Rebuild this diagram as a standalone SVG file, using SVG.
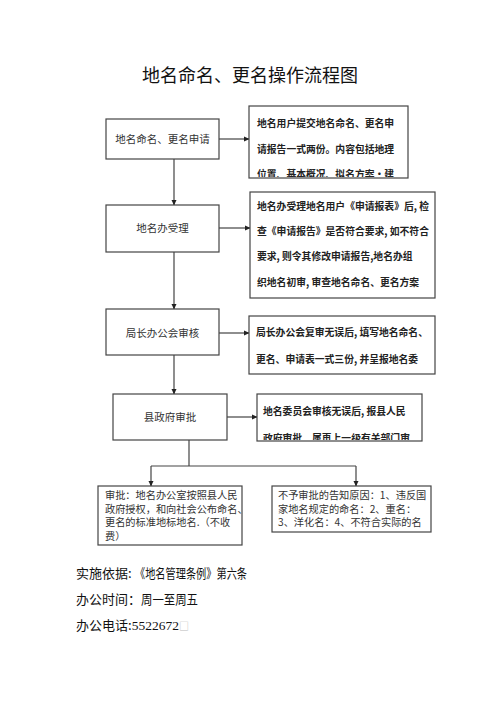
<svg xmlns="http://www.w3.org/2000/svg" width="500" height="708" viewBox="0 0 500 708">
<style>
.box{fill:#fff;stroke:#444;stroke-width:1.2}
.lt{font-family:"Noto Sans CJK SC","Liberation Serif",serif;font-size:10.5px;fill:#333;text-anchor:middle}
.rt{font-family:"Noto Sans CJK SC","Liberation Sans",sans-serif;font-size:9.8px;font-weight:bold;fill:#222}
.bt{font-family:"Noto Sans CJK SC","Liberation Serif",serif;font-size:10.2px;fill:#333}
.ft{font-family:"Noto Sans CJK SC","Liberation Sans",sans-serif;font-size:13px;fill:#111}
.ln{fill:none;stroke:#444;stroke-width:1.2}
</style>
<defs>
<marker id="ah" markerWidth="6" markerHeight="6" refX="5" refY="3" orient="auto" markerUnits="userSpaceOnUse">
<path d="M0,0.5 L5.5,3 L0,5.5 Z" fill="#222"/>
</marker>
<clipPath id="c1"><rect x="249" y="106" width="159" height="71"/></clipPath>
<clipPath id="c4"><rect x="257" y="394" width="165" height="46"/></clipPath>
</defs>
<rect width="500" height="708" fill="#fff"/>
<text x="250" y="82" font-family="Noto Sans CJK SC, Liberation Sans, sans-serif" font-size="18" text-anchor="middle" fill="#111">地名命名、更名操作流程图</text>

<g id="connectors">
<line class="ln" x1="219" y1="139" x2="249" y2="139" marker-end="url(#ah)"/>
<line class="ln" x1="174" y1="159" x2="174" y2="205" marker-end="url(#ah)"/>
<line class="ln" x1="219" y1="228" x2="250" y2="228" marker-end="url(#ah)"/>
<line class="ln" x1="174" y1="252" x2="174" y2="309" marker-end="url(#ah)"/>
<line class="ln" x1="219" y1="333" x2="249" y2="333" marker-end="url(#ah)"/>
<line class="ln" x1="174" y1="355" x2="174" y2="394" marker-end="url(#ah)"/>
<line class="ln" x1="227" y1="417" x2="257" y2="417" marker-end="url(#ah)"/>
<line class="ln" x1="189" y1="440" x2="189" y2="466"/>
<line class="ln" x1="151" y1="466" x2="356" y2="466"/>
<line class="ln" x1="151" y1="466" x2="151" y2="486" marker-end="url(#ah)"/>
<line class="ln" x1="356" y1="466" x2="356" y2="486" marker-end="url(#ah)"/>
</g>

<g id="n1">
<rect class="box" x="106" y="119" width="113" height="40"/>
<text class="lt" x="162.5" y="143">地名命名、更名申请</text>
</g>
<g id="r1">
<rect class="box" x="249" y="106" width="159" height="72"/>
<g clip-path="url(#c1)">
<text class="rt" x="257" y="127">地名用户提交地名命名、更名申</text>
<text class="rt" x="257" y="153">请报告一式两份。内容包括地理</text>
<text class="rt" x="257" y="178">位置、基本概况、拟名方案·建</text>
</g>
</g>

<g id="n2">
<rect class="box" x="106" y="205" width="113" height="47"/>
<text class="lt" x="162.5" y="232">地名办受理</text>
</g>
<g id="r2">
<rect class="box" x="250" y="192" width="185" height="106"/>
<text class="rt" x="257" y="210">地名办受理地名用户《申请报表》后, 检</text>
<text class="rt" x="257" y="235">查《申请报告》是否符合要求, 如不符合</text>
<text class="rt" x="257" y="260">要求, 则令其修改申请报告,地名办组</text>
<text class="rt" x="257" y="286">织地名初审, 审查地名命名、更名方案</text>
</g>

<g id="n3">
<rect class="box" x="106" y="309" width="113" height="46"/>
<text class="lt" x="162.5" y="337">局长办公会审核</text>
</g>
<g id="r3">
<rect class="box" x="249" y="316" width="186" height="58"/>
<text class="rt" x="256" y="336">局长办公会复审无误后, 填写地名命名、</text>
<text class="rt" x="256" y="363">更名、申请表一式三份, 并呈报地名委</text>
</g>

<g id="n4">
<rect class="box" x="113" y="394" width="114" height="46"/>
<text class="lt" x="170" y="421">县政府审批</text>
</g>
<g id="r4">
<rect class="box" x="257" y="394" width="165" height="47"/>
<g clip-path="url(#c4)">
<text class="rt" x="263" y="415">地名委员会审核无误后, 报县人民</text>
<text class="rt" x="263" y="442">政府审批，属再上一级有关部门审</text>
</g>
</g>

<g id="n5">
<rect class="box" x="98" y="486" width="144" height="59"/>
<text class="bt" x="105" y="499">审批：地名办公室按照县人民</text>
<text class="bt" x="105" y="512.5">政府授权，和向社会公布命名、</text>
<text class="bt" x="105" y="526">更名的标准地标地名.（不收</text>
<text class="bt" x="105" y="539.5">费）</text>
</g>
<g id="n6">
<rect class="box" x="272" y="486" width="159" height="46"/>
<text class="bt" x="278" y="499">不予审批的告知原因：1、违反国</text>
<text class="bt" x="278" y="512.5">家地名规定的命名：2、重名：</text>
<text class="bt" x="278" y="526">3、洋化名：4、不符合实际的名</text>
</g>

<text class="ft" x="76" y="578">实施依据:<tspan x="135" textLength="112" lengthAdjust="spacingAndGlyphs">《地名管理条例》第六条</tspan></text>
<text class="ft" x="76" y="604">办公时间：<tspan x="141" textLength="57" lengthAdjust="spacingAndGlyphs">周一至周五</tspan></text>
<text class="ft" x="76" y="630">办公电话:<tspan font-family="Liberation Serif, serif" font-size="13.5">5522672</tspan><tspan fill="#bbb" font-size="10">□</tspan></text>
</svg>
